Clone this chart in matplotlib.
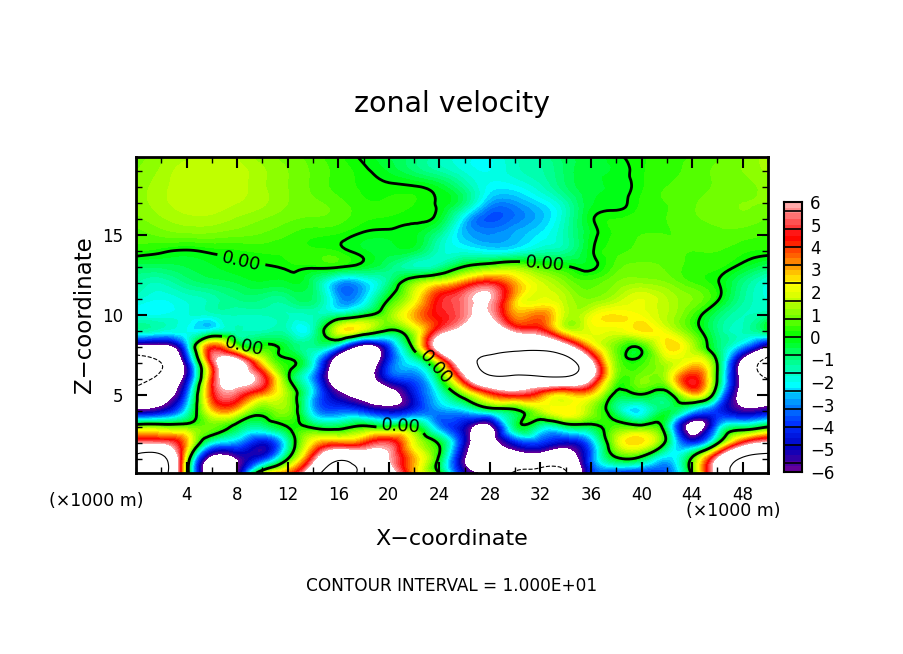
import numpy as np
import matplotlib
matplotlib.use("Agg")
import matplotlib.pyplot as plt
import matplotlib.tri as mtri
from matplotlib.colors import LinearSegmentedColormap, BoundaryNorm
from matplotlib.ticker import MultipleLocator

# grid of the field, x in km (every 2) and z in km
x_km = [0, 2, 4, 6, 8, 10, 12, 14, 16, 18, 20, 22, 24, 26, 28, 30, 32, 34, 36, 38, 40, 42, 44, 46, 48, 50]
z_km = [0.125, 1, 2, 3, 4, 5, 6, 7, 8, 9, 10, 11, 12, 13, 14, 15, 16, 17, 18, 19, 19.875]

z00 = [12, 12, 1, -8, -6, 1.5, 3.5, 8, 12, 9, 7, 3, 0.05, -5, -6.5, -10.5, -11, -10.5, -4, -4, -4, -3.5, 0.3, 7, 12, 12]
z01 = [11.5, 11.5, 1.5, -7, -6, -4, 0, 5, 9.5, 8, 6, 3, -0.3, -6, -8, -8, -8, -8, -3.5, -0.3, -0.6, -2.5, 0.3, 6, 10.5, 11.5]
z02 = [5.5, 5.5, 3, -2, -3, -4.7, -1.5, 2.5, 3.5, 4, 5, 2, -0.2, -5, -7, -4.5, -4, -5, -3, 1.5, 2.5, -0.5, -4, -0.2, 4.5, 6.2]
z03 = [1, 1, 0.8, 0.8, -0.5, -1.2, 0, -0.2, -0.5, 0.3, 0, 0.1, -3, -5, -6.5, -0.8, -1.5, -1, -0.5, 0.6, 0.5, -1, -7, -3, -1, 0.05]
z04 = [-5.5, -5, -2, 2.5, 2.5, 0.5, 1, -2.5, -3.5, -4, -5, -4, -3, -2.5, -1.2, -0.3, 1.5, 2.5, 1.2, -1, -2.2, -0.5, -2.5, -4, -5.5, -5]
z05 = [-8, -7, -3.5, 4, 5, 3, 1.2, -2.5, -5.5, -7, -7, -4.5, -2, 0.8, 3.5, 4.5, 3.5, 2.5, 2.5, -0.3, -0.1, -0.5, 2.5, -1.5, -7, -8]
z06 = [-12, -9, -5, 4, 7, 5, 0.3, -3, -8, -8, -4.5, -3.5, -0.5, 5, 9, 9, 9, 9, 6, 0.8, 1, 1.5, 4.5, -0.1, -7, -10]
z07 = [-12, -10, -5, 4.5, 7, 2.5, 0.2, -2, -8, -9, -4, -2, 2, 8, 11, 11.5, 12, 11.5, 6.5, 1, 0.4, 1.5, 2.5, -0.1, -7, -11]
z08 = [-7, -7, -3, 4, 1, 0.2, -0.5, -1.2, -3, -7, -4, 0.5, 7, 9, 9, 9, 9, 7, 3, 0.8, 0.2, 2.5, 1.5, -0.8, -3, -6.5]
z09 = [-1.5, -1.8, -2, -1.8, -1.5, -1.5, -1.5, -1.5, 2, 1.5, -0.2, 1.5, 5, 7, 8, 5.5, 4.8, 2, 2, 2, 2.5, 2, 0.6, -1, -1.5, -0.5]
z10 = [-2, -2, -1.8, -1.7, -1.5, -1.5, -1.5, -1.5, -1.2, -0.3, 1, 3, 4.5, 5.5, 6, 3.2, 3.5, 1.6, 2, 2.5, 2.2, 1.5, 0.5, -0.8, -1.5, -1.2]
z11 = [-1.7, -2, -1.7, -1.4, -1, -1, -1, -0.8, -2.8, -2.4, 0, 2, 4.5, 5.5, 6, 2.8, 2, 1.5, 1, 1.5, 2, 1.5, 1, 0.1, -1.2, -1.8]
z12 = [-1.2, -1.5, -1, -0.7, -0.5, -0.3, -0.3, -0.8, -2.8, -2.5, -1, 1, 2.2, 3.5, 4.5, 3, 1.8, 1, 0.6, 1, 1.2, 1, 0.5, 0.05, -1, -1.8]
z13 = [-0.7, -0.7, -0.5, -0.3, -0.1, -0.05, 0.1, 0.1, 0.05, -0.3, -0.9, -1.5, -1.2, 0.1, 0.8, 1.1, 0.5, 0.1, -0.1, 0.6, 0.8, 0.7, 0.4, 0.3, -0.2, -0.8]
z14 = [0.3, 0.1, -0.05, 0.1, 0.2, 0.3, 0.3, 0.3, 0.2, -0.2, -0.4, -0.5, -1.6, -1.9, -2.2, -2, -1.5, -1.2, -0.1, 0.4, 0.6, 0.6, 0.5, 0.5, 0.3, 0.2]
z15 = [0.6, 0.8, 0.9, 0.9, 0.8, 0.7, 0.5, 0.3, 0.2, -0.1, -0.15, -0.2, -1.2, -2.6, -3, -2.7, -2.2, -1.4, -0.2, 0.3, 0.5, 0.5, 0.6, 0.7, 0.6, 0.5]
z16 = [0.9, 1.2, 1.4, 1.4, 1.2, 1, 0.8, 0.7, 0.6, 0.3, 0.2, 0.1, -0.3, -2.4, -3.6, -3.2, -2.6, -1.5, -0.1, 0.25, 0.4, 0.5, 0.7, 0.8, 0.9, 0.7]
z17 = [1.1, 1.4, 1.65, 1.65, 1.5, 1.3, 1, 0.8, 0.6, 0.3, 0.3, 0.25, -0.05, -1, -2.8, -2.9, -2.3, -1.4, -0.3, -0.15, 0.3, 0.5, 0.7, 0.9, 1, 1]
z18 = [1.1, 1.4, 1.65, 1.65, 1.6, 1.3, 1, 0.7, 0.4, 0.2, 0.1, 0.05, -0.3, -1.2, -2.1, -2.1, -1.6, -0.8, -0.3, -0.2, 0.2, 0.5, 0.6, 0.8, 0.9, 1.1]
z19 = [1, 1.3, 1.65, 1.65, 1.6, 1.3, 1, 0.7, 0.4, 0.1, -0.3, -0.8, -1.3, -1.8, -2, -1.6, -1.3, -0.7, -0.3, -0.2, 0.2, 0.4, 0.6, 0.8, 1, 1.3]
z20 = [0.8, 1.2, 1.4, 1.6, 1.5, 1.1, 0.9, 0.6, 0.3, -0.1, -0.5, -0.9, -1.5, -1.9, -2, -1.5, -1.2, -0.6, -0.4, -0.1, 0.2, 0.4, 0.5, 0.7, 1, 1.4]

field = np.array([z00, z01, z02, z03, z04, z05, z06, z07, z08, z09, z10,
                  z11, z12, z13, z14, z15, z16, z17, z18, z19, z20])

# colour table, anchors
cmap_vals = [-6, -5.5, -5, -4, -3, -2.2, -1, 0, 1, 2, 2.4, 3, 4, 4.5, 5, 6]
cmap_cols = ["#64009a", "#2c00a8", "#0000c0", "#0030ff", "#0090ff", "#00ffff", "#00ff82", "#00ff00",
             "#82ff00", "#e6ff00", "#ffff00", "#ffb400", "#ff3c00", "#ff0000", "#ff3c3c", "#ffaaaa"]
nodes = [(v + 6) / 12 for v in cmap_vals]
cmap = LinearSegmentedColormap.from_list("zonal", list(zip(nodes, cmap_cols)), N=256)
cmap.set_over("white")
cmap.set_under("white")
levels = np.arange(-6, 6.01, 0.25)
norm = BoundaryNorm(levels, cmap.N, clip=False)

W, H = 904, 654
plt.rcParams["font.family"] = "DejaVu Sans"
fig = plt.figure(figsize=(W / 100, H / 100), dpi=100)

def px_axes(left, top, right, bottom):
    return fig.add_axes([left / W, 1 - bottom / H, (right - left) / W, (bottom - top) / H])

# let matplotlib smooth the coarse grid when it draws the contours
xx, zz = np.meshgrid(x_km, z_km)
tri = mtri.Triangulation(xx.ravel(), zz.ravel())
fine_tri, fine_field = mtri.UniformTriRefiner(tri).refine_field(field.ravel(), subdiv=3)

ax = px_axes(136, 157, 768, 473)
ax.tricontourf(fine_tri, fine_field, levels=levels, cmap=cmap, norm=norm, extend="both")
thick = ax.tricontour(fine_tri, fine_field, levels=[0], colors="k", linewidths=2)
ax.tricontour(fine_tri, fine_field, levels=[10], colors="k", linewidths=0.8)
ax.tricontour(fine_tri, fine_field, levels=[-10], colors="k", linewidths=0.8, linestyles="--")
ax.clabel(thick, fmt="%.2f", fontsize=13, inline=True,
          manual=[(8.2, 13.1), (8.5, 7.9), (23.2, 6.4), (21, 2.8), (32.4, 13.7)])

ax.set_xlim(0, 50)
ax.set_ylim(0.125, 19.875)
ax.set_xticks(range(4, 49, 4))
ax.xaxis.set_minor_locator(MultipleLocator(2))
ax.yaxis.set_major_locator(MultipleLocator(5))
ax.yaxis.set_minor_locator(MultipleLocator(1))
ax.tick_params(which="major", direction="in", top=True, right=True, length=8, width=1.5, labelsize=12, pad=9)
ax.tick_params(which="minor", direction="in", top=True, right=True, length=4, width=1)
for s in ax.spines.values():
    s.set_linewidth(2)

# colour bar
cax = px_axes(784, 202, 802, 472)
bar_vals = np.linspace(-6, 6, 49)
cax.pcolormesh([0, 1], bar_vals, np.array([(bar_vals[:-1] + bar_vals[1:]) / 2]).T, cmap=cmap, norm=norm)
cax.hlines(np.arange(-5.6, 5.7, 0.8), 0, 1, colors="k", linewidth=1.2)
cax.set_xlim(0, 1)
cax.set_ylim(-6, 6)
cax.set_xticks([])
cax.set_yticks(np.arange(-6, 7))
cax.set_yticklabels(["\u2212%d" % -t if t < 0 else str(t) for t in range(-6, 7)])
cax.yaxis.tick_right()
cax.tick_params(length=0, labelsize=12, pad=6)
for s in cax.spines.values():
    s.set_linewidth(1.5)

def label(px, py, txt, **kw):
    fig.text(px / W, 1 - py / H, txt, ha="center", va="center", **kw)

label(452, 104, "zonal velocity", fontsize=20.5)
label(452, 539, "X\u2212coordinate", fontsize=16)
label(84, 315, "Z\u2212coordinate", fontsize=16.5, rotation=90)
label(96, 501, "(\u00d71000 m)", fontsize=12.5)
label(733, 511, "(\u00d71000 m)", fontsize=12.5)
label(452, 586, "CONTOUR INTERVAL = 1.000E+01", fontsize=12.2)

fig.savefig("out.png", dpi=100)
